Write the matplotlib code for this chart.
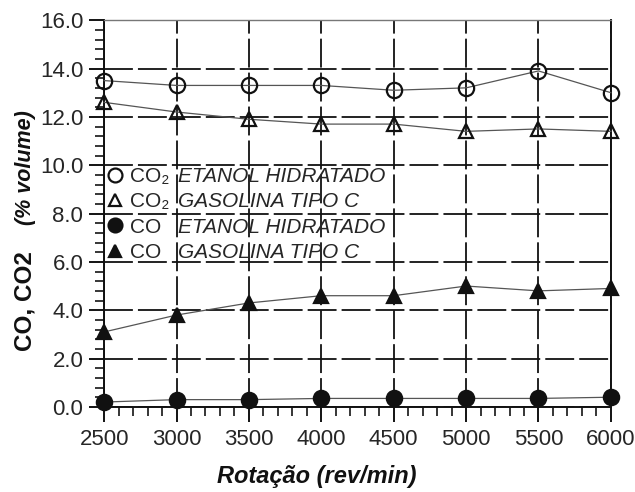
import matplotlib
matplotlib.use("Agg")
import matplotlib.pyplot as plt
from matplotlib.lines import Line2D
from matplotlib.ticker import MultipleLocator

plt.rcParams["font.family"] = ["Liberation Sans", "DejaVu Sans"]

# rotação do motor (rev/min)
rpm = [2500, 3000, 3500, 4000, 4500, 5000, 5500, 6000]

# emissões (% volume)
co2_etanol = [13.5, 13.3, 13.3, 13.3, 13.1, 13.2, 13.9, 13.0]
co2_gasolina = [12.6, 12.2, 11.9, 11.7, 11.7, 11.4, 11.5, 11.4]
co_etanol = [0.2, 0.3, 0.3, 0.35, 0.35, 0.35, 0.35, 0.4]
co_gasolina = [3.1, 3.8, 4.3, 4.6, 4.6, 5.0, 4.8, 4.9]

series = [
    ("CO₂", "ETANOL HIDRATADO", co2_etanol, "o", "none", 11),
    ("CO₂", "GASOLINA TIPO C", co2_gasolina, "^", "none", 10),
    ("CO", "ETANOL HIDRATADO", co_etanol, "o", "#111111", 11),
    ("CO", "GASOLINA TIPO C", co_gasolina, "^", "#111111", 10),
]

txt = "#262626"

fig = plt.figure(figsize=(6.35, 4.92), dpi=100)
ax = fig.add_axes([0.164, 0.173, 0.798, 0.786])

handles = []
for gas, fuel, vals, mk, fc, ms in series:
    ax.plot(rpm, vals, color="#555555", lw=0.9, zorder=3, clip_on=False)
    ax.plot(rpm, vals, ls="none", marker=mk, ms=ms, mfc=fc, mec="#111111",
            mew=1.6, zorder=4, clip_on=False)
    handles.append(Line2D([], [], ls="none", marker=mk, ms=ms - 1, mfc=fc,
                          mec="#111111", mew=1.6))

ax.set_xlim(2500, 6000)
ax.set_ylim(0, 16)
ax.xaxis.set_major_locator(MultipleLocator(500))
ax.xaxis.set_minor_locator(MultipleLocator(100))
ax.yaxis.set_major_locator(MultipleLocator(2))
ax.yaxis.set_minor_locator(MultipleLocator(0.4))
ax.yaxis.set_major_formatter(lambda v, p: f"{v:.1f}")

ax.tick_params(which="major", direction="out", length=11, width=1.3,
               labelsize=16, labelcolor=txt)
ax.tick_params(axis="y", which="major", pad=4)
ax.tick_params(axis="x", which="major", pad=5)
ax.tick_params(which="minor", direction="out", length=6.5, width=1.1)
ax.grid(True, which="major", color="#111111", lw=1.3, ls=(0, (16, 2.8)), zorder=1)

for s in ax.spines.values():
    s.set_linewidth(1.4)
    s.set_color("#111111")
ax.spines["top"].set_color("#777777")
ax.spines["top"].set_linewidth(1.0)

# rótulo do eixo y: gases em negrito, unidade em negrito itálico
ax.text(-0.156, 0.274, "CO, CO2", transform=ax.transAxes, rotation=90,
        ha="center", va="center", fontsize=17.5, fontweight="bold", color="#111111")
ax.text(-0.156, 0.618, "(% volume)", transform=ax.transAxes, rotation=90,
        ha="center", va="center", fontsize=15.5, fontweight="bold",
        fontstyle="italic", color="#111111")

ax.set_xlabel("Rotação (rev/min)", fontsize=17, fontweight="bold",
              fontstyle="italic", color="#111111", va="center")
ax.xaxis.set_label_coords(0.42, -0.181)

# legenda em duas colunas: gás com marcador, combustível em itálico
leg_kw = dict(loc="upper left", frameon=False, labelspacing=0.3,
              borderpad=0, borderaxespad=0, labelcolor=txt)
leg1 = ax.legend(handles, [s[0] for s in series], bbox_to_anchor=(0.0, 0.62),
                 prop={"size": 15}, handlelength=1.0, handletextpad=0.25,
                 **leg_kw)
ax.add_artist(leg1)
blank = [Line2D([], [], ls="none") for _ in series]
leg2 = ax.legend(blank, [s[1] for s in series], bbox_to_anchor=(0.146, 0.62),
                 prop={"size": 15, "style": "italic"}, handlelength=0,
                 handletextpad=0, **leg_kw)

fig.savefig("out.png", dpi=100)
